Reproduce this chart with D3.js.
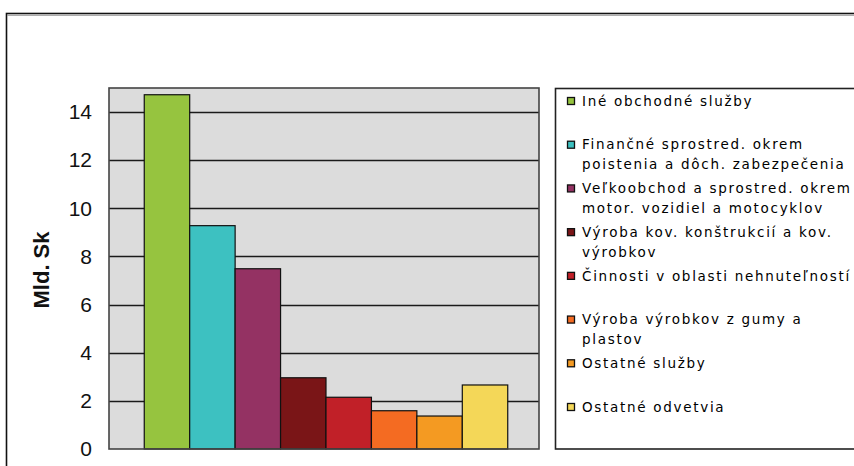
<!DOCTYPE html>
<html><head><meta charset="utf-8">
<script src="https://cdn.jsdelivr.net/npm/d3@7"></script>
<style>body{margin:0;background:#fff;}svg{display:block;}</style>
</head><body>
<svg id="c" width="854" height="466"></svg>
<script>
const categories = [
  "Iné obchodné služby",
  "Finančné sprostred. okrem poistenia a dôch. zabezpečenia",
  "Veľkoobchod a sprostred. okrem motor. vozidiel a motocyklov",
  "Výroba kov. konštrukcií a kov. výrobkov",
  "Činnosti v oblasti nehnuteľností",
  "Výroba výrobkov z gumy a plastov",
  "Ostatné služby",
  "Ostatné odvetvia"
];
const legendLines = [
  ["Iné obchodné služby"],
  ["Finančné sprostred. okrem", "poistenia a dôch. zabezpečenia"],
  ["Veľkoobchod a sprostred. okrem", "motor. vozidiel a motocyklov"],
  ["Výroba kov. konštrukcií a kov.", "výrobkov"],
  ["Činnosti v oblasti nehnuteľností"],
  ["Výroba výrobkov z gumy a", "plastov"],
  ["Ostatné služby"],
  ["Ostatné odvetvia"]
];
const values = [14.72, 9.28, 7.49, 2.96, 2.15, 1.59, 1.37, 2.66];
const colors = ["#96c43f", "#3dc1c1", "#943263", "#7a1517", "#c12028", "#f46b22", "#f49a22", "#f4d758"];
const yTicks = [0, 2, 4, 6, 8, 10, 12, 14];
const yTitle = "Mld. Sk";

const svg = d3.select("#c");
const plot = {l: 109, t: 88, r: 539, b: 449};

// outer frame
svg.append("rect").attr("x", 6.5).attr("y", 13.5).attr("width", 900).attr("height", 500)
  .attr("fill", "#fff").attr("stroke", "#111").attr("stroke-width", 1.6);
svg.append("line").attr("x1", 7).attr("x2", 900).attr("y1", 15.3).attr("y2", 15.3)
  .attr("stroke", "#999").attr("stroke-width", 1);

const y = d3.scaleLinear().domain([0, 15]).range([plot.b, plot.t]);
const x0 = d3.scaleBand().domain(["all"]).range([plot.l, plot.r]).paddingInner(0).paddingOuter(0.0915).align(0.53);
const x1 = d3.scaleBand().domain(categories).range([x0("all"), x0("all") + x0.bandwidth()]).padding(0);

// plot background
svg.append("rect").attr("x", plot.l).attr("y", plot.t).attr("width", plot.r - plot.l).attr("height", plot.b - plot.t)
  .attr("fill", "#dcdcdc");

// gridlines
svg.append("g").selectAll("line").data(yTicks.filter(d => d > 0)).join("line")
  .attr("x1", plot.l).attr("x2", plot.r)
  .attr("y1", d => Math.round(y(d)) + 0.5).attr("y2", d => Math.round(y(d)) + 0.5)
  .attr("stroke", "#1a1a1a").attr("stroke-width", 1.4);

// bars
svg.append("g").selectAll("rect").data(values).join("rect")
  .attr("x", (d, i) => x1(categories[i]))
  .attr("width", x1.bandwidth())
  .attr("y", d => y(d))
  .attr("height", d => y(0) - y(d))
  .attr("fill", (d, i) => colors[i])
  .attr("stroke", "#111").attr("stroke-width", 1.2);

// plot border
svg.append("rect").attr("x", plot.l).attr("y", plot.t).attr("width", plot.r - plot.l).attr("height", plot.b - plot.t)
  .attr("fill", "none").attr("stroke", "#444").attr("stroke-width", 1.6);

// y axis
const yAxis = d3.axisLeft(y).tickValues(yTicks).tickSize(0).tickPadding(17);
const ga = svg.append("g").attr("transform", `translate(${plot.l},0)`).call(yAxis);
ga.select(".domain").remove();
ga.selectAll("text").attr("font-family", "Liberation Sans, Arial, sans-serif").attr("font-size", 21)
  .attr("fill", "#111");

// y title
svg.append("text").attr("transform", "translate(49,270) rotate(-90)")
  .attr("text-anchor", "middle").attr("font-family", "Liberation Sans, Arial, sans-serif")
  .attr("font-weight", "bold").attr("font-size", 22).attr("fill", "#111").text(yTitle);

// legend
svg.append("rect").attr("x", 555.5).attr("y", 88.5).attr("width", 400).attr("height", 360.5)
  .attr("fill", "#fff").attr("stroke", "#222").attr("stroke-width", 1.6);
const ly = d3.scaleLinear().domain([0, 7]).range([101, 407]);
const lg = svg.append("g").selectAll("g").data(legendLines).join("g")
  .attr("transform", (d, i) => `translate(0,${ly(i)})`);
lg.append("rect").attr("x", 567.5).attr("y", -3.5).attr("width", 7).attr("height", 7)
  .attr("fill", (d, i) => colors[i]).attr("stroke", "#111").attr("stroke-width", 1.3);
lg.selectAll("text").data(d => d).join("text")
  .attr("x", 582).attr("y", (d, j) => j * 20).attr("dy", "0.35em")
  .attr("font-family", "DejaVu Sans, sans-serif").attr("font-size", 13.5)
  .attr("letter-spacing", 1.7).attr("fill", "#000").text(d => d);
</script>
</body></html>
